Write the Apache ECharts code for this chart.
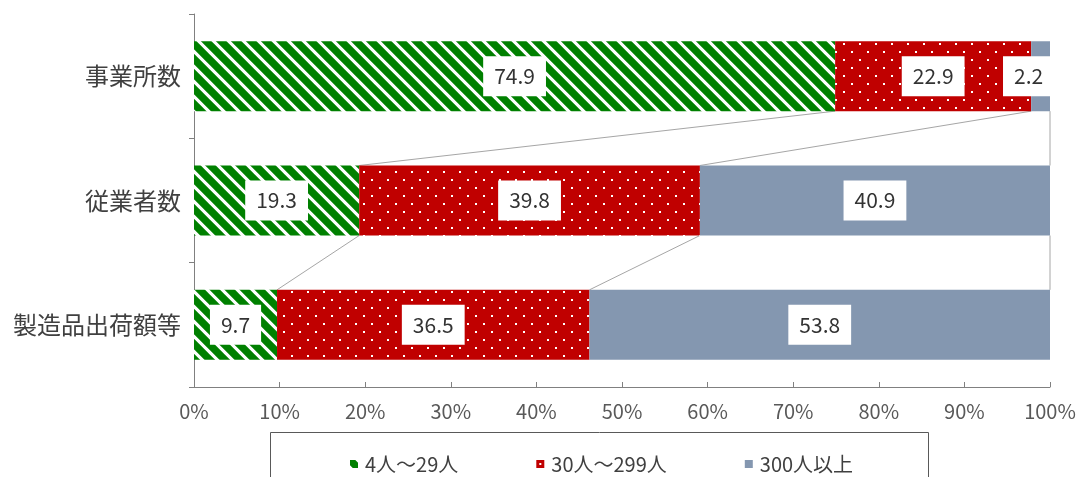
<!DOCTYPE html>
<html>
<head>
<meta charset="utf-8">
<script src="https://cdn.jsdelivr.net/npm/echarts@6/dist/echarts.min.js"></script>
<style>
  html, body { margin: 0; padding: 0; background: #fff; }
  #chart { width: 1081px; height: 477px; }
</style>
</head>
<body>
<div id="chart"></div>
<script>
// 規模別構成比（%）
const categories = ['事業所数', '従業者数', '製造品出荷額等'];
const seriesNames = ['4人～29人', '30人～299人', '300人以上'];
const small = [74.9, 19.3, 9.7];
const medium = [22.9, 39.8, 36.5];
const large = [2.2, 40.9, 53.8];
const xTicks = [0, 10, 20, 30, 40, 50, 60, 70, 80, 90, 100];

const FONT = '"Noto Sans CJK JP", "Noto Sans", sans-serif';
const BAR_W = 70;

// 斜線の塗りパターン
function stripePattern() {
  const c = document.createElement('canvas');
  c.width = 15; c.height = 15;
  const g = c.getContext('2d');
  g.fillStyle = '#ffffff';
  g.fillRect(0, 0, 15, 15);
  g.strokeStyle = '#008000';
  g.lineWidth = 7.5;
  g.beginPath();
  g.moveTo(-4, -4); g.lineTo(19, 19);
  g.moveTo(-19, -4); g.lineTo(4, 19);
  g.moveTo(11, -4); g.lineTo(34, 19);
  g.stroke();
  return { image: c, repeat: 'repeat' };
}

// 赤地に白い点のパターン
function dotPattern() {
  const c = document.createElement('canvas');
  c.width = 16; c.height = 16;
  const g = c.getContext('2d');
  g.fillStyle = '#C00000';
  g.fillRect(0, 0, 16, 16);
  g.fillStyle = '#ffffff';
  g.fillRect(3, 3, 2, 2);
  g.fillRect(11, 11, 2, 2);
  return { image: c, repeat: 'repeat' };
}

const colors = [stripePattern(), dotPattern(), '#8497B0'];
const seriesData = [small, medium, large];

// 各行の累積境界（%）
const cumulative = categories.map((_, i) => {
  let s = 0;
  return seriesData.map(arr => (s += arr[i]));
});

const labelStyle = {
  show: true,
  position: 'inside',
  backgroundColor: '#ffffff',
  padding: [9, 11, 9, 11],
  lineHeight: 22,
  color: '#333333',
  fontSize: 21,
  fontFamily: FONT,
  formatter: p => p.value.toFixed(1)
};

const barSeries = seriesNames.map((name, k) => ({
  name,
  type: 'bar',
  stack: 'total',
  barWidth: BAR_W,
  itemStyle: { color: colors[k] },
  label: labelStyle,
  data: seriesData[k].map(v => {
    // 幅の狭い区間のラベルは左へ寄せる
    if (v < 5) return { value: v, label: { offset: [-12, 0] } };
    return v;
  }),
  emphasis: { disabled: true },
  z: 2
}));

// 行間を結ぶ区分線
const seriesLines = {
  type: 'custom',
  name: 'lines',
  silent: true,
  z: 1,
  data: categories.slice(0, -1).map((_, i) => i),
  renderItem: (params, api) => {
    const i = api.value(0);
    const children = cumulative[i].map((v, k) => {
      const a = api.coord([v, i]);
      const b = api.coord([cumulative[i + 1][k], i + 1]);
      return {
        type: 'line',
        shape: { x1: a[0], y1: a[1] + BAR_W / 2, x2: b[0], y2: b[1] - BAR_W / 2 },
        style: { stroke: '#a6a6a6', lineWidth: 1 }
      };
    });
    return { type: 'group', children };
  },
  encode: { x: -1, y: 0 }
};

const chart = echarts.init(document.getElementById('chart'), null, { renderer: 'canvas' });
chart.setOption({
  animation: false,
  backgroundColor: '#ffffff',
  grid: { left: 194, right: 31, top: 14, bottom: 90, containLabel: false },
  xAxis: {
    type: 'value',
    min: 0,
    max: 100,
    interval: 10,
    axisLine: { show: true, lineStyle: { color: '#808080', width: 1 } },
    axisTick: { show: true, inside: true, length: 5, lineStyle: { color: '#808080' } },
    splitLine: { show: false },
    axisLabel: {
      formatter: v => (xTicks.includes(v) ? v + '%' : ''),
      color: '#595959',
      fontSize: 20,
      fontFamily: FONT,
      margin: 14
    }
  },
  yAxis: {
    type: 'category',
    inverse: true,
    data: categories,
    axisLine: { show: true, lineStyle: { color: '#808080', width: 1 } },
    axisTick: { show: true, length: 5, lineStyle: { color: '#808080' } },
    axisLabel: {
      color: '#404040',
      fontSize: 24,
      fontFamily: FONT,
      margin: 13
    }
  },
  legend: {
    data: seriesNames,
    top: 449,
    left: 345,
    itemGap: 78,
    itemWidth: 8,
    itemHeight: 8,
    icon: 'rect',
    textStyle: { color: '#404040', fontSize: 20, fontFamily: FONT, padding: [0, 0, 0, 2] }
  },
  graphic: [{
    type: 'rect',
    shape: { x: 270.5, y: 432.5, width: 658, height: 60 },
    style: { fill: 'none', stroke: '#595959', lineWidth: 1 },
    silent: true,
    z: -1
  }],
  series: [...barSeries, seriesLines]
});
</script>
</body>
</html>
